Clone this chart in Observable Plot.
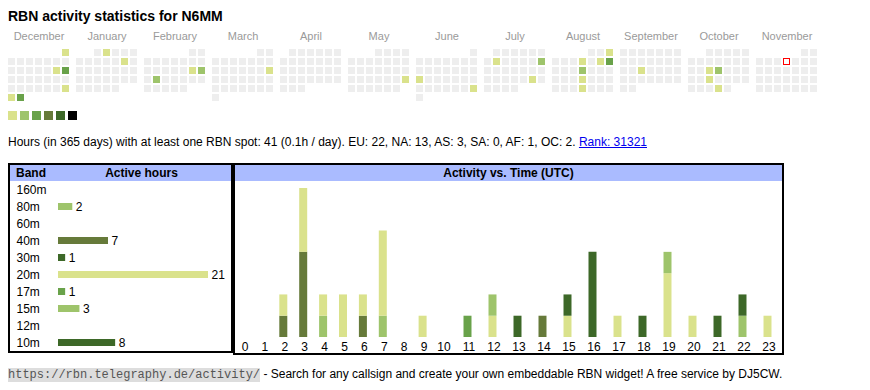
<!DOCTYPE html>
<html><head><meta charset="utf-8">
<script src="https://cdn.jsdelivr.net/npm/d3@7"></script>
<script src="https://cdn.jsdelivr.net/npm/@observablehq/plot@0.6"></script>
<style>
body{margin:0;background:#fff;font-family:Arial,"Liberation Sans",sans-serif;color:#000;}
#root{position:relative;width:870px;height:390px;overflow:hidden;}
.abs{position:absolute;}
#title{left:8px;top:8px;font-size:14px;font-weight:bold;line-height:16px;white-space:nowrap;}
#cal{left:0;top:0;}
#legend{left:8px;top:111px;height:9px;display:flex;gap:3px;}
#legend span{display:block;width:9px;height:9px;}
#stats{left:8px;top:135px;font-size:12px;line-height:14px;white-space:nowrap;}
#stats a{color:#0000ee;text-decoration:underline;}
.box{border:2px solid #000;box-sizing:border-box;}
#bandbox{left:8px;top:163px;width:225px;height:190px;}
#actbox{left:233px;top:163px;width:551px;height:192px;}
.hdr{position:relative;height:16px;background:#aabbff;font-size:12px;font-weight:bold;line-height:16px;white-space:nowrap;}
#footer{left:8px;top:367px;font-size:12px;line-height:14px;white-space:nowrap;}
#footer code{font-family:"Liberation Mono","DejaVu Sans Mono",monospace;font-size:12px;background:#dddddd;color:#555;}
</style></head>
<body><div id="root">
<div id="title" class="abs">RBN activity statistics for N6MM</div>
<div id="cal" class="abs"></div>
<div id="legend" class="abs"></div>
<div id="stats" class="abs">Hours (in 365 days) with at least one RBN spot: 41 (0.1h / day). EU: 22, NA: 13, AS: 3, SA: 0, AF: 1, OC: 2. <a href="#">Rank: 31321</a></div>
<div id="bandbox" class="abs box"><div class="hdr"><span style="position:absolute;left:6px;">Band</span><span style="position:absolute;left:42px;width:179px;text-align:center;">Active hours</span></div><div id="bandplot"></div></div>
<div id="actbox" class="abs box"><div class="hdr" style="text-align:center;">Activity vs. Time (UTC)</div><div id="actplot"></div></div>
<div id="footer" class="abs"><code>https://rbn.telegraphy.de/activity/</code> - Search for any callsign and create your own embeddable RBN widget! A free service by DJ5CW.</div>
</div>
<script>
// ---- data ----
const monthNames = ["December","January","February","March","April","May","June","July","August","September","October","November"];
const activeDates = ["2024-12-01","2024-12-14","2024-12-15","2024-12-29","2024-12-30","2024-12-31",
  "2025-01-02","2025-01-11","2025-02-15","2025-02-16","2025-02-18","2025-03-16","2025-05-25",
  "2025-06-16","2025-06-29","2025-07-08","2025-07-13","2025-07-26",
  "2025-08-03","2025-08-07","2025-08-09","2025-08-10","2025-08-14","2025-08-21","2025-08-28",
  "2025-09-17","2025-10-15","2025-10-16","2025-10-22","2025-10-30"];
const activeLevels = [1,1,3,1,1,3, 1,1,1,2,2,1,1, 1,1,1,2,1, 1,1,1,3,2,1,1, 1,1,2,1,1];
const levelColors = ["#eeeeee","#dae28c","#9ec46b","#69a24a","#667a3a","#3d6828","#000000"];
const todayDate = "2025-11-06";

const bands = ["160m","80m","60m","40m","30m","20m","17m","15m","12m","10m"];
const bandHours = [0,2,0,7,1,21,1,3,0,8];
const bandColors = ["#b5b5b5","#9ec46b","#c9c9c9","#667a3a","#3d6828","#dae28c","#69a24a","#9ec46b","#8f8f8f","#3d6828"];

const hours = [0,1,2,3,4,5,6,7,8,9,10,11,12,13,14,15,16,17,18,19,20,21,22,23];
const act80m = [0,0,0,0,1,0,0,1,0,0,0,0,0,0,0,0,0,0,0,0,0,0,0,0];
const act40m = [0,0,1,4,0,0,1,0,0,0,0,0,0,0,1,0,0,0,0,0,0,0,0,0];
const act30m = [0,0,0,0,0,0,0,0,0,0,0,0,0,0,0,0,0,0,1,0,0,0,0,0];
const act20m = [0,0,1,3,1,2,1,4,0,1,0,0,1,0,0,1,0,1,0,3,1,0,0,1];
const act17m = [0,0,0,0,0,0,0,0,0,0,0,1,0,0,0,0,0,0,0,0,0,0,0,0];
const act15m = [0,0,0,0,0,0,0,0,0,0,0,0,1,0,0,0,0,0,0,1,0,0,1,0];
const act10m = [0,0,0,0,0,0,0,0,0,0,0,0,0,1,0,1,4,0,0,0,0,1,1,0];

// ---- calendar ----
const font = "Arial, 'Liberation Sans', sans-serif";
const levelByDate = new Map(activeDates.map((d, i) => [d, activeLevels[i]]));
const fmt = d3.utcFormat("%Y-%m-%d");
const days = d3.utcDay.range(new Date(Date.UTC(2024, 11, 1)), new Date(Date.UTC(2025, 11, 1))).map(d => {
  const y = d.getUTCFullYear(), m = d.getUTCMonth();
  const mi = (y - 2024) * 12 + m - 11;
  const fw = (new Date(Date.UTC(y, m, 1)).getUTCDay() + 6) % 7;
  const wd = (d.getUTCDay() + 6) % 7;
  const row = Math.floor((fw + d.getUTCDate() - 1) / 7);
  const key = fmt(d);
  return {key, col: mi * 68 / 9 + wd, row, level: levelByDate.get(key) || 0};
});
const CS = 7 / 9;
const cal = Plot.plot({
  width: 870, height: 125, margin: 0,
  x: {type: "linear", domain: [0, 12 * 68 / 9], range: [8, 824], axis: null},
  y: {type: "linear", domain: [0, 6], range: [49, 103], axis: null},
  style: {fontFamily: font, background: "transparent"},
  marks: [
    Plot.rect(days, {x1: "col", x2: d => d.col + CS, y1: "row", y2: d => d.row + CS, fill: d => levelColors[d.level]}),
    Plot.rect(days.filter(d => d.key === todayDate), {x1: "col", x2: d => d.col + CS, y1: "row", y2: d => d.row + CS, fill: "white", stroke: "#ff0000", strokeWidth: 1, inset: 0.5}),
    Plot.text(monthNames, {x: (m, i) => i * 68 / 9 + 61 / 18, y: () => -10 / 9, text: d => d, lineAnchor: "bottom", fontSize: 11, fill: "#9a9a9a"})
  ]
});
document.getElementById("cal").appendChild(cal);

// legend
const lg = document.getElementById("legend");
levelColors.slice(1).forEach(c => { const s = document.createElement("span"); s.style.background = c; lg.appendChild(s); });

// ---- band table ----
const bandRows = bands.map((b, i) => ({band: b, total: bandHours[i]}));
const bandPlot = Plot.plot({
  width: 221, height: 170, marginLeft: 48, marginRight: 23, marginTop: 0, marginBottom: 0,
  x: {domain: [0, 21], range: [48, 198], axis: null},
  y: {domain: bands, range: [0, 170], paddingInner: 10 / 17, paddingOuter: 5 / 17, axis: null},
  color: {domain: bands, range: bandColors},
  style: {fontFamily: font, background: "transparent"},
  marks: [
    Plot.barX(bandRows.filter(d => d.total > 0), {x: "total", y: "band", fill: "band"}),
    Plot.text(bandRows, {y: "band", text: "band", frameAnchor: "left", textAnchor: "start", dx: -42, fontSize: 12, fill: "black"}),
    Plot.text(bandRows.filter(d => d.total > 0), {x: "total", y: "band", text: d => String(d.total), textAnchor: "start", dx: 3, fontSize: 12, fill: "black"})
  ]
});
document.getElementById("bandplot").appendChild(bandPlot);

// ---- activity vs time ----
const series = {"80m": act80m, "40m": act40m, "30m": act30m, "20m": act20m, "17m": act17m, "15m": act15m, "10m": act10m};
const flat = [];
bands.forEach(b => { const arr = series[b]; if (!arr) return; arr.forEach((v, h) => { if (v > 0) flat.push({hour: hours[h], band: b, count: v}); }); });
const actPlot = Plot.plot({
  width: 547, height: 172, margin: 0,
  x: {type: "linear", domain: [0, 10, 23], range: [8, 207, 532], axis: null},
  y: {type: "linear", domain: [0, 7], range: [156, 7], axis: null},
  color: {domain: bands, range: bandColors},
  style: {fontFamily: font, background: "transparent"},
  marks: [
    Plot.ruleX(flat, Plot.stackY({x: "hour", y: "count", stroke: "band", strokeWidth: 8})),
    Plot.text(hours, {x: d => d, y: () => 0, text: d => String(d), lineAnchor: "bottom", dy: 13, dx: 1.5, fontSize: 12, fill: "black"})
  ]
});
document.getElementById("actplot").appendChild(actPlot);
</script>
</body></html>
